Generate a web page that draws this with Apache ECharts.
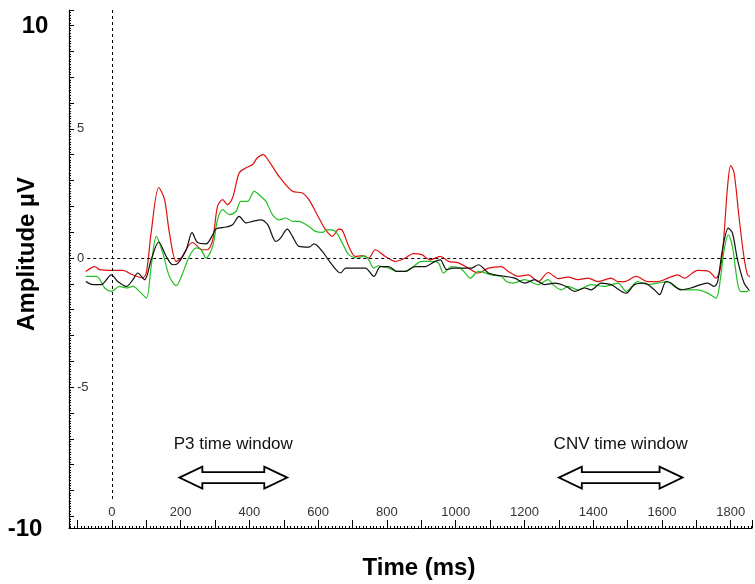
<!DOCTYPE html>
<html>
<head>
<meta charset="utf-8">
<script src="https://cdn.jsdelivr.net/npm/echarts@6/dist/echarts.min.js"></script>
<style>html,body{margin:0;padding:0;background:#fff;}#c{width:755px;height:584px;}</style>
</head>
<body>
<div id="c"></div>
<script>
// ---- data (time in ms, amplitude in µV) ----
const timeRed = [-76,-50,-36,-2,31,60,89,100,114,136,153,167,187,201,234,264,278,293,307,322,336,351,370,390,409,423,440,457,486,525,554,573,602,621,641,660,670,689,708,728,747,766,795,824,853,877,901,926,955,979,1008,1037,1066,1095,1133,1153,1182,1211,1240,1269,1298,1327,1356,1385,1414,1452,1472,1491,1525,1559,1588,1617,1646,1665,1704,1737,1757,1771,1781,1791,1800,1810,1824,1839,1849,1856];
const ampRed = [-0.52,-0.33,-0.45,-0.48,-0.48,-0.65,-0.77,-0.57,0.98,2.73,2.26,0.98,-0.13,0,0.6,0.32,0.32,0.7,2.0,2.26,2.07,2.33,3.29,3.49,3.62,3.88,4.0,3.74,3.16,2.58,2.52,2.26,1.55,1.10,0.84,1.12,1.08,0.45,0.06,0.09,0,0.32,0.06,-0.13,0,0.17,0.13,-0.07,0.06,-0.13,-0.19,-0.39,-0.58,-0.39,-0.33,-0.52,-0.71,-0.65,-0.91,-0.56,-0.8,-0.74,-0.84,-0.78,-0.91,-0.78,-0.91,-0.91,-0.71,-0.91,-0.91,-0.78,-0.65,-0.78,-0.48,-0.52,-0.78,-0.33,0.97,2.78,3.58,3.29,1.61,0,-0.65,-0.72];

const timeGreen = [-76,-45,-21,-2,22,42,61,80,100,114,129,148,167,187,206,225,245,259,274,293,307,322,341,361,375,394,414,433,448,467,486,506,525,544,573,592,612,626,650,670,689,718,733,747,762,776,786,805,829,853,877,901,926,950,964,988,1013,1032,1042,1066,1104,1133,1148,1167,1201,1240,1269,1283,1307,1327,1356,1394,1433,1472,1496,1530,1559,1588,1617,1636,1665,1704,1733,1757,1771,1781,1793,1805,1820,1830,1845,1856];
const ampGreen = [-0.71,-0.71,-1.16,-1.29,-1.10,-1.16,-1.10,-1.29,-1.55,-0.33,0.84,0.19,-0.71,-1.07,-0.58,0.06,0.39,0.32,0,0.45,1.48,1.87,1.68,1.81,2.19,2.19,2.58,2.39,2.19,1.68,1.48,1.55,1.42,1.42,1.22,1.03,0.99,1.10,1.03,0.58,0.13,0,0.09,-0.07,-0.39,-0.30,-0.33,-0.39,-0.52,-0.52,-0.33,-0.13,-0.13,-0.19,-0.58,-0.33,-0.39,-0.65,-0.78,-0.52,-0.65,-0.71,-0.91,-0.97,-0.84,-1.03,-0.84,-1.03,-1.23,-1.10,-1.23,-1.03,-1.10,-0.97,-1.29,-0.91,-1.03,-0.97,-0.91,-1.10,-1.23,-1.23,-1.36,-1.55,-0.71,0.32,0.90,0.45,-0.97,-1.3,-1.3,-1.25];

const timeBlack = [-76,-55,-31,-2,17,42,61,75,95,114,136,158,177,191,216,233,249,274,293,303,332,351,370,390,409,433,453,477,491,510,525,544,573,588,612,636,665,680,708,737,762,781,805,829,853,882,911,940,955,974,993,1017,1046,1066,1095,1114,1143,1172,1201,1230,1259,1288,1322,1346,1375,1394,1423,1452,1496,1520,1549,1578,1593,1612,1626,1655,1684,1713,1733,1752,1762,1776,1793,1805,1820,1839,1853];
const ampBlack = [-0.91,-1.03,-1.03,-0.65,-0.91,-1.10,-0.84,-0.58,-0.84,-0.07,0.62,0.06,-0.26,-0.22,0.32,0.98,0.6,0.55,0.9,1.13,1.20,1.29,1.61,1.36,1.42,1.48,1.29,0.64,0.78,1.12,0.84,0.45,0.42,0.55,0.26,-0.19,-0.58,-0.39,-0.39,-0.39,-0.71,-0.33,-0.33,-0.52,-0.52,-0.33,-0.33,-0.13,-0.07,-0.45,-0.39,-0.39,-0.39,-0.26,-0.58,-0.65,-0.71,-0.78,-0.97,-0.84,-1.03,-0.97,-1.10,-1.29,-1.16,-1.23,-0.97,-1.03,-1.36,-1.03,-0.97,-1.23,-1.42,-0.91,-0.97,-1.23,-1.16,-1.03,-0.97,-1.10,-0.91,0.32,1.16,0.97,-0.07,-0.97,-1.23];

const windowStart = [196, 1300];
const windowEnd = [510, 1660];
const windowLabel = ['P3 time window', 'CNV time window'];
const windowLevel = -8.5;

const yLabels = [5, 0, -5];
const xLabelStep = 200;

const pairs = (t, v) => t.map((x, i) => [x, v[i]]);
const FONT = 'Liberation Sans, Arial, sans-serif';

const chart = echarts.init(document.getElementById('c'), null, {renderer: 'canvas'});
chart.setOption({
  animation: false,
  backgroundColor: '#fff',
  grid: {left: 69, right: 0, top: 10, bottom: 56, containLabel: false},
  xAxis: {
    type: 'value', min: -125, max: 1862, splitNumber: 20,
    axisLine: {show: true, onZero: false, lineStyle: {color: '#000', width: 1}},
    axisTick: {show: true, inside: true, length: 8, lineStyle: {color: '#000'}},
    minorTick: {show: true, splitNumber: 10, length: 2, lineStyle: {color: '#000'}},
    splitLine: {show: false},
    axisLabel: {
      inside: true, margin: 9, fontSize: 13, color: '#333', fontFamily: FONT,
      formatter: v => (v >= 0 && Math.abs(v % xLabelStep) < 1e-6) ? String(v) : ''
    }
  },
  yAxis: {
    type: 'value', min: -10.45, max: 9.6, splitNumber: 20,
    axisLine: {show: true, onZero: false, lineStyle: {color: '#000', width: 1.2}},
    axisTick: {show: true, inside: true, length: 5, lineStyle: {color: '#000'}},
    minorTick: {show: true, splitNumber: 10, length: 2, lineStyle: {color: '#000'}},
    splitLine: {show: false},
    axisLabel: {
      inside: true, margin: 8, fontSize: 13, color: '#333', fontFamily: FONT,
      formatter: v => yLabels.some(l => Math.abs(l - v) < 1e-6) ? String(Math.round(v)) : ''
    }
  },
  graphic: [
    {type: 'text', x: 35, y: 26, style: {text: '10', font: 'bold 24px ' + FONT, fill: '#000', align: 'center', verticalAlign: 'middle'}},
    {type: 'text', x: 25, y: 529, style: {text: '-10', font: 'bold 24px ' + FONT, fill: '#000', align: 'center', verticalAlign: 'middle'}},
    {type: 'text', x: 27, y: 254, rotation: Math.PI / 2, style: {text: 'Amplitude µV', font: 'bold 24px ' + FONT, fill: '#000', align: 'center', verticalAlign: 'middle'}},
    {type: 'text', x: 419, y: 568, style: {text: 'Time (ms)', font: 'bold 24px ' + FONT, fill: '#000', align: 'center', verticalAlign: 'middle'}}
  ],
  series: [
    {
      name: 'red', type: 'line', data: pairs(timeRed, ampRed), showSymbol: false, smooth: 0.3,
      lineStyle: {color: '#e01010', width: 1.2}, z: 3
    },
    {
      name: 'green', type: 'line', data: pairs(timeGreen, ampGreen), showSymbol: false, smooth: 0.3,
      lineStyle: {color: '#22c022', width: 1.2}, z: 3
    },
    {
      name: 'black', type: 'line', data: pairs(timeBlack, ampBlack), showSymbol: false, smooth: 0.3,
      lineStyle: {color: '#111', width: 1.2}, z: 4,
      markLine: {
        silent: true, symbol: 'none', animation: false,
        label: {show: false},
        lineStyle: {color: '#000', type: [3, 3], width: 1},
        data: [
          [{coord: [0, 9.6]}, {coord: [0, -9.35]}],
          [{coord: [-72, 0]}, {coord: [1862, 0]}]
        ]
      }
    },
    {
      name: 'windows', type: 'custom', clip: false, z: 5,
      encode: {x: [0, 1], y: 2},
      data: windowStart.map((s, i) => [s, windowEnd[i], windowLevel]),
      renderItem: (params, api) => {
        const a = api.coord([api.value(0), api.value(2)]);
        const b = api.coord([api.value(1), api.value(2)]);
        const x0 = a[0], x1 = b[0], y = a[1], h = 23, hw = 11, sw = 5.5;
        return {
          type: 'group',
          children: [
            {type: 'polygon', shape: {points: [[x0, y], [x0 + h, y - hw], [x0 + h, y - sw], [x1 - h, y - sw], [x1 - h, y - hw], [x1, y], [x1 - h, y + hw], [x1 - h, y + sw], [x0 + h, y + sw], [x0 + h, y + hw]]},
             style: {fill: '#fff', stroke: '#000', lineWidth: 1.8}},
            {type: 'text', x: (x0 + x1) / 2, y: y - 33,
             style: {text: windowLabel[params.dataIndex], font: '17px ' + FONT, fill: '#111', align: 'center', verticalAlign: 'middle'}}
          ]
        };
      }
    }
  ]
});
</script>
</body>
</html>
